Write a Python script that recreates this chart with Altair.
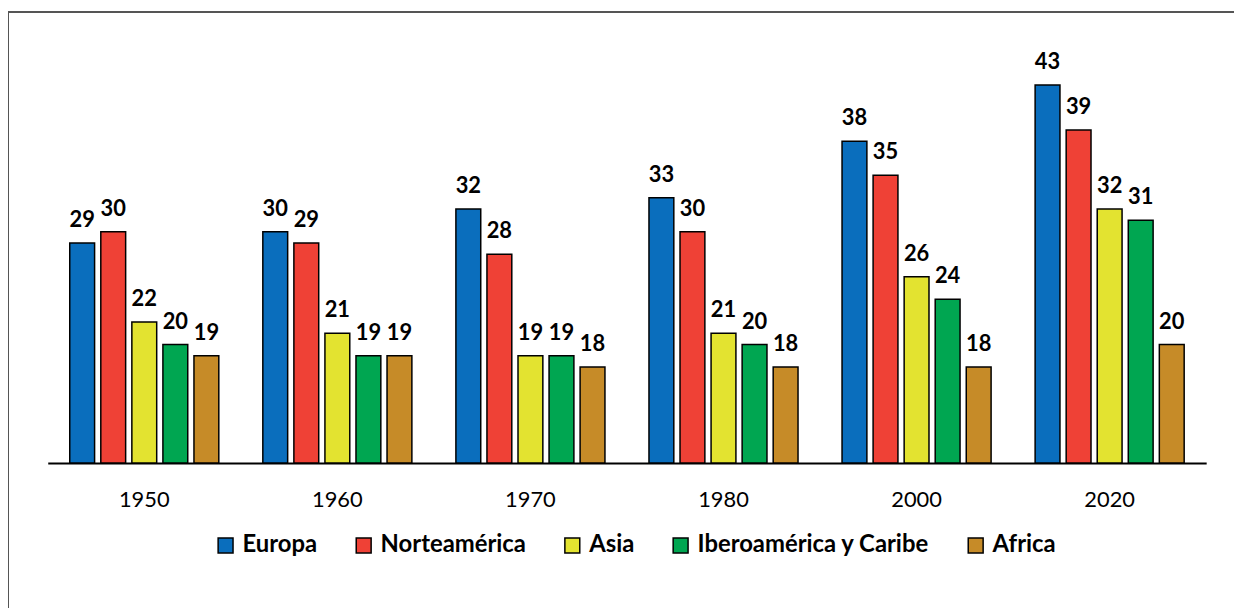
import altair as alt
import pandas as pd

years = ["1950", "1960", "1970", "1980", "2000", "2020"]
regions = ["Europa", "Norteamérica", "Asia", "Iberoamérica y Caribe", "Africa"]
europa = [29, 30, 32, 33, 38, 43]
norteamerica = [30, 29, 28, 30, 35, 39]
asia = [22, 21, 19, 21, 26, 32]
iberoamerica = [20, 19, 19, 20, 24, 31]
africa = [19, 19, 18, 18, 18, 20]
colors = ["#0A6EBD", "#EF4136", "#E3E330", "#00A651", "#C68B28"]

series = [europa, norteamerica, asia, iberoamerica, africa]
rows = []
for r, vals in zip(regions, series):
    for y, v in zip(years, vals):
        rows.append({"year": y, "region": r, "value": v})
df = pd.DataFrame(rows)

FONT = "Lato"
base_min = 9.5

x = alt.X("year:N", sort=years, title=None,
          scale=alt.Scale(paddingInner=0.228, paddingOuter=0.114),
          axis=alt.Axis(labelAngle=0, domain=True, domainColor="black", domainWidth=2,
                        ticks=False, labelPadding=27, labelFontSize=22, labelFont=FONT,
                        labelColor="black", grid=False))
xo = alt.XOffset("region:N", sort=regions, scale=alt.Scale(paddingInner=0.2))
y = alt.Y("value:Q", axis=None, scale=alt.Scale(domain=[base_min, 48.5], zero=False, nice=False))

bars = alt.Chart(df).mark_bar(stroke="black", strokeWidth=1.5).encode(
    x=x, xOffset=xo, y=y, y2=alt.datum(base_min),
    color=alt.Color("region:N", sort=regions,
                    scale=alt.Scale(domain=regions, range=colors),
                    legend=alt.Legend(title=None, orient="none", legendX=167, legendY=514,
                                      direction="horizontal", columns=5,
                                      symbolType="square", symbolSize=225,
                                      symbolStrokeColor="black", symbolStrokeWidth=1.5,
                                      symbolOpacity=1, labelFontSize=24, labelFont=FONT,
                                      labelFontWeight="bold", labelColor="black",
                                      columnPadding=34, labelOffset=5, labelLimit=400)),
)

labels = alt.Chart(df).mark_text(baseline="alphabetic", dy=-16, fontSize=22, fontWeight="bold",
                                 font=FONT, color="black").encode(
    x=x, xOffset=xo, y=y, text="value:Q"
)

frame = alt.Chart(pd.DataFrame({"k": [0]})).mark_rect(
    fill="white", fillOpacity=0, stroke="#555555", strokeWidth=2
).encode(x=alt.value(-40), x2=alt.value(1400), y=alt.value(-11), y2=alt.value(800))

chart = alt.layer(frame, bars, labels).properties(
    width=1166, height=443,
    autosize=alt.AutoSizeParams(type="none"),
    padding={"left": 40, "top": 13, "right": 28, "bottom": 144},
).configure(background="white", view=alt.ViewConfig(stroke=None))

chart.save("out.html", embed_options={"renderer": "svg", "actions": False})
